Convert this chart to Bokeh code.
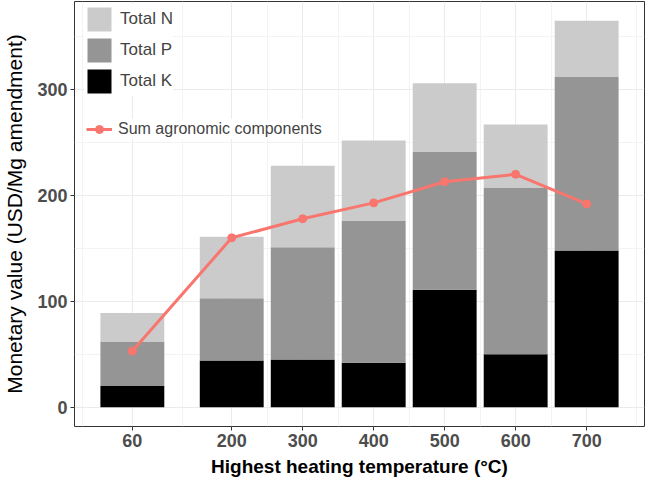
from bokeh.plotting import figure
from bokeh.models import FixedTicker, Legend, LegendItem, Range1d, ColumnDataSource
from bokeh.embed import file_html
from bokeh.resources import INLINE

# ---- data ----
temperatures = [60, 200, 300, 400, 500, 600, 700]
total_k = [20, 44, 45, 42, 111, 50, 148]
total_p = [42, 59, 106, 134, 130, 157, 164]
total_n = [27, 58, 77, 76, 65, 60, 53]
sum_agronomic = [53, 160, 178, 193, 213, 220, 192]
x_ticks = [60, 200, 300, 400, 500, 600, 700]
x_minor = [-10, 130, 250, 350, 450, 550, 650, 770]
y_ticks = [0, 100, 200, 300]
y_minor = [50, 150, 250, 350]
series_labels = ["Total N", "Total P", "Total K"]
line_label = "Sum agronomic components"

src = ColumnDataSource(dict(x=temperatures, k=total_k, p=total_p, n=total_n, s=sum_agronomic))

FONT = "Liberation Sans"

p = figure(width=645, height=479,
           x_range=Range1d(-21.5, 781.5), y_range=Range1d(-18.25, 383.25),
           output_backend="svg", toolbar_location=None,
           min_border_left=68, min_border_right=1, min_border_top=1, min_border_bottom=52)
p.background_fill_color = "white"
p.border_fill_color = "white"
p.outline_line_color = "#333333"
p.outline_line_width = 1

bars = p.vbar_stack(['k', 'p', 'n'], x='x', width=90, source=src,
                    color=["#000000", "#959595", "#CBCBCB"], line_color=None)
ln = p.line('x', 's', source=src, line_color="#F8766D", line_width=3)
pts = p.scatter('x', 's', source=src, size=8, color="#F8766D")

# grids
for g, ticks, minor in ((p.xgrid, x_ticks, x_minor), (p.ygrid, y_ticks, y_minor)):
    g.ticker = FixedTicker(ticks=ticks, minor_ticks=minor)
    g.grid_line_color = "#EBEBEB"
    g.grid_line_width = 1
    g.minor_grid_line_color = "#F3F3F3"
    g.minor_grid_line_width = 1

p.xaxis.ticker = FixedTicker(ticks=x_ticks)
p.yaxis.ticker = FixedTicker(ticks=y_ticks)

for ax in (p.xaxis, p.yaxis):
    ax.axis_line_color = None
    ax.major_tick_line_color = "#333333"
    ax.major_tick_in = 0
    ax.major_tick_out = 4
    ax.minor_tick_line_color = None
    ax.major_label_text_font = FONT
    ax.major_label_text_font_style = "bold"
    ax.major_label_text_font_size = "18px"
    ax.major_label_text_color = "#4D4D4D"
    ax.major_label_standoff = 3
    ax.axis_label_text_font = FONT
    ax.axis_label_text_color = "black"

p.xaxis.axis_label = "Highest heating temperature (°C)"
p.xaxis.axis_label_text_font_style = "bold"
p.xaxis.axis_label_text_font_size = "19px"
p.xaxis.axis_label_standoff = 6
p.yaxis.axis_label = "Monetary value (USD/Mg amendment)"
p.yaxis.axis_label_text_font_style = "normal"
p.yaxis.axis_label_text_font_size = "21px"
p.yaxis.axis_label_standoff = 8

leg1 = Legend(items=[LegendItem(label=series_labels[0], renderers=[bars[2]]),
                     LegendItem(label=series_labels[1], renderers=[bars[1]]),
                     LegendItem(label=series_labels[2], renderers=[bars[0]])],
              location=(10, 330), glyph_width=30, glyph_height=30, spacing=1,
              padding=4, margin=0, label_standoff=6,
              label_text_font=FONT, label_text_font_size="17px",
              border_line_color=None, background_fill_color="white", background_fill_alpha=1)
leg2 = Legend(items=[LegendItem(label=line_label, renderers=[ln, pts])],
              location=(12, 287), glyph_width=26, glyph_height=20,
              padding=4, margin=0, label_standoff=6,
              label_text_font=FONT, label_text_font_size="16px",
              border_line_color=None, background_fill_color="white", background_fill_alpha=1)
p.add_layout(leg1, "center")
p.add_layout(leg2, "center")

open("out.html", "w").write(file_html(p, INLINE))
